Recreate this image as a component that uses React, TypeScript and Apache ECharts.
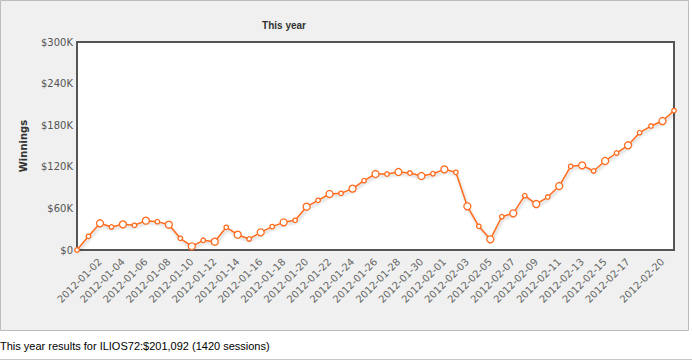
import React, { useEffect, useRef } from "react";
import * as echarts from "echarts";

const categories: string[] = [
  "2011-12-31", "2012-01-01", "2012-01-02", "2012-01-03", "2012-01-04", "2012-01-05",
  "2012-01-06", "2012-01-07", "2012-01-08", "2012-01-09", "2012-01-10", "2012-01-11",
  "2012-01-12", "2012-01-13", "2012-01-14", "2012-01-15", "2012-01-16", "2012-01-17",
  "2012-01-18", "2012-01-19", "2012-01-20", "2012-01-21", "2012-01-22", "2012-01-23",
  "2012-01-24", "2012-01-25", "2012-01-26", "2012-01-27", "2012-01-28", "2012-01-29",
  "2012-01-30", "2012-01-31", "2012-02-01", "2012-02-02", "2012-02-03", "2012-02-04",
  "2012-02-05", "2012-02-06", "2012-02-07", "2012-02-08", "2012-02-09", "2012-02-10",
  "2012-02-11", "2012-02-12", "2012-02-13", "2012-02-14", "2012-02-15", "2012-02-16",
  "2012-02-17", "2012-02-18", "2012-02-19", "2012-02-20", "2012-02-21",
];

const winnings: number[] = [
  0, 19700, 38500, 33200, 37000, 35600, 42300, 40900, 36500, 16800,
  5300, 14000, 12000, 32700, 22100, 15900, 25500, 33700, 39900, 42800,
  62500, 71600, 80800, 81700, 88500, 100000, 109600, 109600, 112500, 111000,
  106700, 110000, 116300, 112000, 63000, 34100, 15400, 48000, 52900, 78400,
  66300, 76400, 92300, 120700, 122100, 114000, 128400, 139900, 151000, 169200,
  178800, 186000, 201092,
];

// indices of categories whose labels are shown on the axis
const labelledIdx: number[] = [
  2, 4, 6, 8, 10, 12, 14, 16, 18, 20, 22, 24, 26, 28, 30, 32, 34, 36, 38, 40,
  42, 44, 46, 48, 51,
];

const yTicks = { min: 0, max: 300000, interval: 60000 };

const titleText = "This year";
const yName = "Winnings";
const footerText = "This year results for ILIOS72:$201,092 (1420 sessions)";

export default function App() {
  const ref = useRef<HTMLDivElement>(null);

  useEffect(() => {
    document.body.style.margin = "0";
    if (!ref.current) return;
    const chart = echarts.init(ref.current, undefined, { renderer: "svg" });
    const orange = "#ff6a1c";
    const labelled = new Set(labelledIdx);

    chart.setOption({
      animation: false,
      graphic: [
        {
          type: "rect",
          z: -100,
          silent: true,
          shape: { x: 0.5, y: 0.5, width: 688, height: 330 },
          style: { fill: "#eff0ef", stroke: "#bcbcbc", lineWidth: 1 },
        },
        {
          type: "line",
          z: -100,
          shape: { x1: 0, y1: 359.5, x2: 692, y2: 359.5 },
          style: { stroke: "#c8c8c8", lineWidth: 1 },
        },
        {
          type: "text",
          x: 284,
          y: 25,
          style: {
            text: titleText,
            align: "center",
            verticalAlign: "middle",
            font: "bold 10px 'Liberation Sans', Arial, sans-serif",
            fill: "#333",
          },
        },
        {
          type: "text",
          x: 23,
          y: 146,
          rotation: Math.PI / 2,
          style: {
            text: yName,
            align: "center",
            verticalAlign: "middle",
            font: "bold 10px 'DejaVu Sans', sans-serif",
            fill: "#333",
          },
        },
        {
          type: "text",
          x: 0,
          y: 346,
          style: {
            text: footerText,
            align: "left",
            verticalAlign: "middle",
            font: "11px 'Liberation Sans', Arial, sans-serif",
            fill: "#000",
          },
        },
      ],
      grid: {
        left: 77,
        right: 18,
        top: 42,
        bottom: 111,
        show: true,
        borderColor: "#555",
        borderWidth: 2,
        backgroundColor: "#fff",
        z: 3,
      },
      xAxis: {
        type: "category",
        data: categories,
        boundaryGap: false,
        axisLine: { show: false },
        axisTick: { show: false },
        splitLine: { show: false },
        axisLabel: {
          rotate: 45,
          margin: 10,
          color: "#666",
          fontSize: 10,
          fontFamily: "'DejaVu Sans', sans-serif",
          interval: (i: number) => labelled.has(i),
        },
      },
      yAxis: {
        type: "value",
        min: yTicks.min,
        max: yTicks.max,
        interval: yTicks.interval,
        axisLine: { show: false },
        axisTick: { show: false },
        splitLine: { show: true, lineStyle: { color: "#c4c4c4", width: 1 } },
        splitArea: { show: true, areaStyle: { color: ["#ffffff", "#f4f4f4"] } },
        axisLabel: {
          margin: 4,
          color: "#555",
          fontSize: 10,
          fontFamily: "'DejaVu Sans', sans-serif",
          formatter: (v: number) => (v === 0 ? "$0" : "$" + v / 1000 + "K"),
        },
      },
      series: [
        {
          type: "line",
          data: winnings.map((v, i) => ({
            value: v,
            symbolSize: labelled.has(i) ? 7 : 4.5,
          })),
          symbol: "circle",
          showAllSymbol: true,
          lineStyle: {
            color: orange,
            width: 1.5,
            shadowColor: "rgba(0,0,0,0.25)",
            shadowBlur: 3,
            shadowOffsetX: 1,
            shadowOffsetY: 2,
          },
          itemStyle: { color: "#fff", borderColor: orange, borderWidth: 1.3 },
          clip: false,
          z: 5,
        },
      ],
    });
    return () => chart.dispose();
  }, []);

  return <div ref={ref} style={{ width: 692, height: 361 }} />;
}
